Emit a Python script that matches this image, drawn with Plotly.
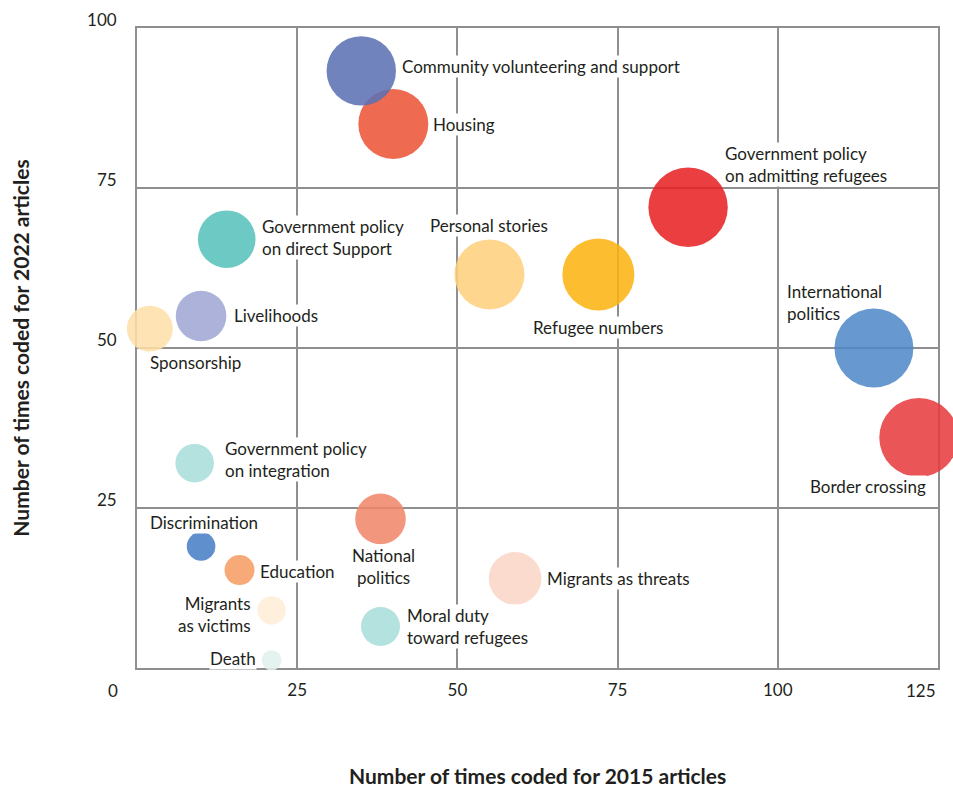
import plotly.graph_objects as go

# ---- data ----
topics = [
    "Housing", "Community volunteering and support", "Government policy<br>on admitting refugees",
    "Government policy<br>on direct Support", "Personal stories", "Refugee numbers",
    "International<br>politics", "Border crossing", "Livelihoods", "Sponsorship",
    "Government policy<br>on integration", "National<br>politics", "Discrimination",
    "Education", "Migrants<br>as victims", "Death", "Moral duty<br>toward refugees",
    "Migrants as threats",
]
coded_2015 = [40, 35, 86, 14, 55, 72, 115, 122, 10, 2, 9, 38, 10, 16, 21, 21, 38, 59]
coded_2022 = [85, 93.3, 72, 67, 61.5, 61.5, 50, 36, 55, 53, 32, 23.3, 19, 15.3, 9, 1.2, 6.5, 14]
weight = [35, 34.7, 39.7, 28.8, 35, 36, 39.5, 39.5, 25.3, 23, 19.3, 25.3, 14.3, 15, 14.2, 10, 19.5, 26.3]

x_ticks = [25, 50, 75, 100, 125]
x_tick_text = ["25", "50", "75", "100", ""]
y_ticks = [25, 50, 75, 100]
x_end = 125

colors = [
    "#eb5436", "#5c70b2", "#e82124", "#56c1ba", "#fed07d", "#fdb311",
    "#5189c9", "#e73d3e", "#a0a7d4", "#fee0a9", "#a9ded9", "#f1866b",
    "#487ec7", "#f69d64", "#feeed7", "#e0f1ee", "#a9ded9", "#fad6c6",
]

# label placement relative to each bubble (pixel offsets, anchor, alignment, white backing)
label_style = [
    (39, 0, "left", "left", True),        # Housing
    (40, 4, "left", "left", True),        # Community
    (36, 43, "left", "left", True),       # Gov admitting
    (34, 2, "left", "left", True),        # Gov direct
    (0, 49, "center", "center", True),    # Personal stories
    (0, -53, "center", "center", True),   # Refugee numbers
    (-88, 46, "left", "left", False),     # International politics
    (8, -49, "right", "right", True),     # Border crossing
    (32, 1, "left", "left", True),        # Livelihoods
    (-1, -34, "left", "left", True),      # Sponsorship
    (29, 4, "left", "left", True),        # Gov integration
    (3, -48, "center", "center", True),   # National politics
    (3, 24, "center", "center", True),    # Discrimination
    (19, -1, "left", "left", True),       # Education
    (-20, -4, "right", "right", True),    # Migrants as victims
    (-15, 2, "right", "right", True),     # Death
    (25, 0, "left", "left", True),        # Moral duty
    (31, 0, "left", "left", True),        # Migrants as threats
]

FONT = "Lato, 'Open Sans', sans-serif"
TXT = "#231f20"
GRID = "#8f8f8f"

fig = go.Figure()
fig.add_trace(go.Scatter(
    x=coded_2015, y=coded_2022, mode="markers",
    marker=dict(size=weight, sizemode="diameter", sizeref=0.5, color=colors,
                opacity=0.87, line=dict(width=0)),
    cliponaxis=False, hoverinfo="skip", showlegend=False,
))

annotations = []
for t, xv, yv, (dx, dy, anchor, align, backed) in zip(topics, coded_2015, coded_2022, label_style):
    annotations.append(dict(
        x=xv, y=yv, xref="x", yref="y", text=t, showarrow=False,
        xanchor=anchor, yanchor="middle", align=align, xshift=dx, yshift=dy,
        font=dict(family=FONT, size=17, color=TXT),
        bgcolor="white" if backed else "rgba(0,0,0,0)", borderpad=0,
    ))
# shared origin label and right-aligned last x tick label
annotations.append(dict(x=0, y=0, xref="x", yref="y", text="0", showarrow=False,
                        xanchor="center", yanchor="middle", xshift=-24, yshift=-22,
                        font=dict(family=FONT, size=17, color=TXT)))
annotations.append(dict(x=x_end, y=0, xref="x", yref="y", text=str(x_end), showarrow=False,
                        xanchor="right", yanchor="middle", xshift=0, yshift=-22,
                        font=dict(family=FONT, size=17, color=TXT)))
# axis titles
annotations.append(dict(x=0.5, y=-0.168, xref="paper", yref="paper",
                        text="<b>Number of times coded for 2015 articles</b>", showarrow=False,
                        xanchor="center", yanchor="middle",
                        font=dict(family=FONT, size=21, color=TXT)))
annotations.append(dict(x=-0.1465, y=0.5, xref="paper", yref="paper",
                        text="<b>Number of times coded for 2022 articles</b>", showarrow=False,
                        textangle=-90, xanchor="center", yanchor="middle",
                        font=dict(family=FONT, size=21, color=TXT)))

fig.update_layout(
    width=953, height=788,
    margin=dict(l=137, r=15, t=28, b=120, pad=0, autoexpand=False),
    paper_bgcolor="white", plot_bgcolor="white",
    font=dict(family=FONT, size=17, color=TXT),
    annotations=annotations,
    hovermode=False,
    xaxis=dict(range=[0, x_end], tickvals=x_ticks, ticktext=x_tick_text, showgrid=True,
               gridcolor=GRID, gridwidth=1.8, showline=True, linecolor=GRID, linewidth=1.8,
               mirror=True, zeroline=False, ticks="", ticklabelstandoff=6, automargin=False,
               ticklabeloverflow="allow",
               layer="below traces", tickfont=dict(family=FONT, size=17, color=TXT)),
    yaxis=dict(range=[0, 100], tickvals=y_ticks, showgrid=True,
               gridcolor=GRID, gridwidth=1.8, showline=True, linecolor=GRID, linewidth=1.8,
               mirror=True, zeroline=False, ticks="", ticklabelstandoff=15, ticklabelshift=-8,
               automargin=False,
               layer="below traces", tickfont=dict(family=FONT, size=17, color=TXT)),
)

fig.write_html(
    "out.html",
    config={"displayModeBar": False},
    post_script="document.body.style.margin='0';document.body.style.overflow='hidden';",
)
